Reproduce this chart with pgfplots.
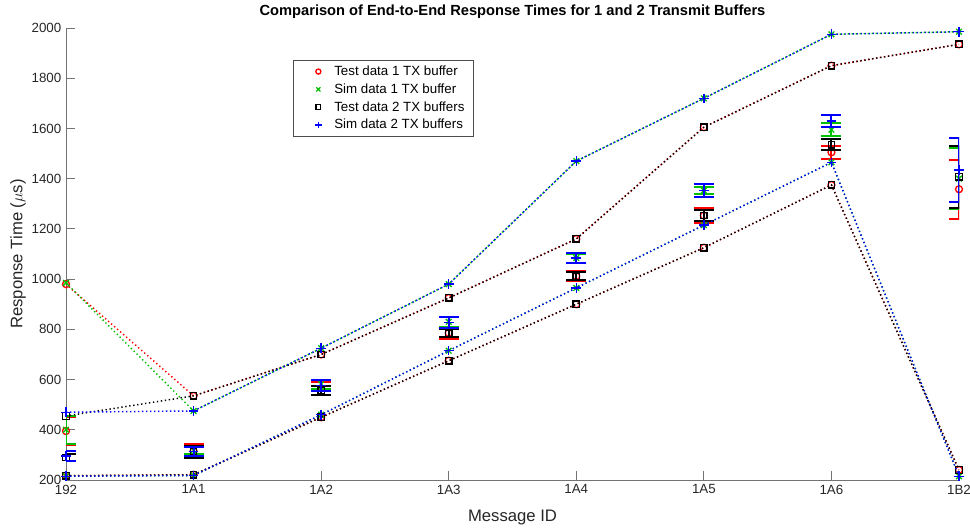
\documentclass[border=0pt]{standalone}
\usepackage{pgfplots}
\pgfplotsset{compat=1.18}
\usepackage{fontspec}
\setmainfont{Liberation Sans}
\definecolor{mred}{rgb}{1,0,0}
\definecolor{mgreen}{rgb}{0,0.75,0}
\definecolor{mblue}{rgb}{0,0,1}
\definecolor{axgray}{rgb}{0.45,0.45,0.45}
\definecolor{txtgray}{rgb}{0.15,0.15,0.15}

\pgfplotsset{
  dline/.style={line width=1.1pt, dash pattern=on 1pt off 2pt,
    mark options={solid, line width=1pt}},
  ebar/.style={only marks, mark options={solid, line width=1pt},
    error bars/.cd, y dir=both, y explicit,
    error bar style={line width=1.5pt, solid},
    error mark options={line width=1.5pt, mark size=7.5pt, rotate=90},
    /pgfplots/.cd},
  mo/.style={mark=o, mark size=2.6pt},
  mx/.style={mark=x, mark size=3pt},
  ms/.style={mark=square, mark size=2.4pt},
  mp/.style={mark=+, mark size=3.6pt},
  limg/.style={legend image code/.code={%
    \path (0cm,0cm) (0.82cm,0cm);
    \draw[##1] plot coordinates {(0.48cm,0cm)};}},
}

\begin{document}
\begin{tikzpicture}
\begin{axis}[
  width=669.75pt, height=339pt, scale only axis,
  xmin=0, xmax=7, ymin=200, ymax=2000,
  xtick={0,...,7}, xticklabels={192,1A1,1A2,1A3,1A4,1A5,1A6,1B2},
  ytick={200,400,...,2000},
  axis x line=bottom, axis y line=left,
  axis line style={-, draw=axgray, line width=0.6pt},
  tick style={draw=axgray, line width=0.6pt},
  tick align=inside, major tick length=6.75pt,
  ticklabel style={font=\fontsize{10}{12}\selectfont, text=txtgray},
  /pgf/number format/assume math mode=true,
  /pgf/number format/1000 sep={},
  title={Comparison of End-to-End Response Times for 1 and 2 Transmit Buffers},
  every axis title/.style={at={(axis description cs:0.5,1)}, anchor=center, yshift=12pt, font=\bfseries\fontsize{11}{13}\selectfont},
  xlabel={Message ID}, ylabel={Response Time ($\mu$s)},
  every axis x label/.style={at={(axis description cs:0.5,-0.084)}, anchor=center, font=\fontsize{12.5}{14}\selectfont, text=txtgray},
  every axis y label/.style={at={(axis description cs:-0.0538,0.5)}, anchor=center, rotate=90, font=\fontsize{12.5}{14}\selectfont, text=txtgray},
  legend style={at={(0.254,0.929)}, anchor=north west, draw=black!70, line width=0.5pt,
    font=\fontsize{10}{12}\selectfont, cells={anchor=west}, row sep=0.6pt, inner xsep=5pt},
  clip mode=individual,
]
\addlegendimage{limg, only marks, mred, mark=o, mark size=1.9pt, mark options={line width=1pt}}
\addlegendentry{Test data 1 TX buffer}
\addlegendimage{limg, only marks, mgreen, mark=x, mark size=2.2pt, mark options={line width=1pt}}
\addlegendentry{Sim data 1 TX buffer}
\addlegendimage{limg, only marks, black, mark=square, mark size=1.8pt, mark options={line width=1pt}}
\addlegendentry{Test data 2 TX buffers}
\addlegendimage{limg, only marks, mblue, mark=+, mark size=2.6pt, mark options={line width=1pt}}
\addlegendentry{Sim data 2 TX buffers}

% Test data, 1 TX buffer
\addplot[forget plot, mred, dline, mo] coordinates {
  (0,980)(1,535)(2,700)(3,925)(4,1160)(5,1605)(6,1850)(7,1935)};
\addplot[forget plot, mred, mo, ebar] coordinates {
  (0,395) +- (0,55) (1,315) +- (0,28) (2,565) +- (0,27) (3,785) +- (0,25)
  (4,1012) +- (0,20) (5,1253) +- (0,30) (6,1505) +- (0,25) (7,1358) +- (0,117)};
\addplot[forget plot, mred, dline, mo] coordinates {
  (0,217)(1,221)(2,450)(3,675)(4,900)(5,1125)(6,1375)(7,240)};

% Sim data, 1 TX buffer
\addplot[forget plot, mgreen, dline, mx] coordinates {
  (0,985)(1,475)(2,725)(3,980)(4,1470)(5,1720)(6,1975)(7,1985)};
\addplot[forget plot, mgreen, mx, ebar] coordinates {
  (0,400) +- (0,55) (1,318) +- (0,15) (2,582) +- (0,18) (3,830) +- (0,20)
  (4,1084) +- (0,18) (5,1353) +- (0,13) (6,1595) +- (0,25) (7,1400) +- (0,121)};
\addplot[forget plot, mgreen, dline, mx] coordinates {
  (0,215)(1,218)(2,460)(3,715)(4,965)(5,1215)(6,1465)(7,215)};

% Test data, 2 TX buffers
\addplot[forget plot, black, dline, ms] coordinates {
  (0,455)(1,535)(2,700)(3,925)(4,1160)(5,1605)(6,1850)(7,1935)};
\addplot[forget plot, black, ms, ebar] coordinates {
  (0,290) +- (0,15) (1,312) +- (0,25) (2,558) +- (0,18) (3,785) +- (0,15)
  (4,1012) +- (0,16) (5,1253) +- (0,22) (6,1535) +- (0,22) (7,1407) +- (0,123)};
\addplot[forget plot, black, dline, ms] coordinates {
  (0,217)(1,221)(2,450)(3,675)(4,900)(5,1125)(6,1375)(7,240)};

% Sim data, 2 TX buffers
\addplot[forget plot, mblue, dline, mp] coordinates {
  (0,470)(1,475)(2,725)(3,980)(4,1470)(5,1720)(6,1975)(7,1985)};
\addplot[forget plot, mblue, mp, ebar] coordinates {
  (0,295) +- (0,20) (1,313) +- (0,17) (2,576) +- (0,22) (3,827) +- (0,22)
  (4,1084) +- (0,20) (5,1353) +- (0,26) (6,1630) +- (0,25) (7,1435) +- (0,127)};
\addplot[forget plot, mblue, dline, mp] coordinates {
  (0,215)(1,218)(2,460)(3,715)(4,965)(5,1215)(6,1465)(7,215)};

\coordinate (sw) at (rel axis cs:0,0);
\coordinate (ne) at (rel axis cs:1,1);
\end{axis}
\pgfresetboundingbox
\useasboundingbox ([xshift=-49.5pt,yshift=-36.75pt]sw) rectangle ([xshift=8.25pt,yshift=21pt]ne);
\end{tikzpicture}
\end{document}
